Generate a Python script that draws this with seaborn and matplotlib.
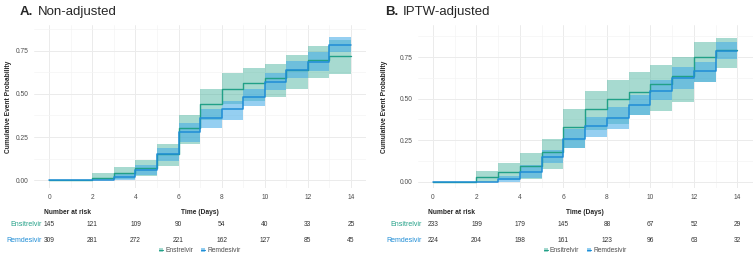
import numpy as np
import matplotlib
matplotlib.use("Agg")
import matplotlib.pyplot as plt
from matplotlib.patches import Patch
from matplotlib.lines import Line2D
from matplotlib.transforms import blended_transform_factory
import seaborn as sns

# days for the step curves (value holds from day d to d+1)
days = list(range(15))

# panel A: non-adjusted
a_ens = [0, 0, 0.015, 0.045, 0.07, 0.15, 0.30, 0.44, 0.53, 0.565, 0.59, 0.64, 0.695, 0.72, 0.72]
a_ens_lo = [0, 0, 0, 0.01, 0.025, 0.085, 0.21, 0.35, 0.44, 0.46, 0.48, 0.53, 0.59, 0.615, 0.615]
a_ens_hi = [0, 0, 0.04, 0.08, 0.115, 0.21, 0.38, 0.53, 0.62, 0.65, 0.675, 0.725, 0.775, 0.81, 0.81]
a_rem = [0, 0, 0, 0.02, 0.06, 0.15, 0.28, 0.36, 0.41, 0.48, 0.57, 0.64, 0.685, 0.785, 0.785]
a_rem_lo = [0, 0, 0, 0.0, 0.03, 0.11, 0.22, 0.30, 0.35, 0.43, 0.52, 0.59, 0.63, 0.74, 0.74]
a_rem_hi = [0, 0, 0, 0.04, 0.09, 0.19, 0.33, 0.41, 0.46, 0.53, 0.62, 0.69, 0.74, 0.83, 0.83]

# panel B: IPTW-adjusted
b_ens = [0, 0, 0.026, 0.057, 0.093, 0.177, 0.328, 0.436, 0.50, 0.542, 0.587, 0.637, 0.753, 0.793, 0.793]
b_ens_lo = [0, 0, 0, 0.01, 0.016, 0.078, 0.20, 0.31, 0.35, 0.40, 0.426, 0.482, 0.60, 0.683, 0.683]
b_ens_hi = [0, 0, 0.064, 0.11, 0.17, 0.26, 0.438, 0.546, 0.61, 0.659, 0.703, 0.753, 0.84, 0.864, 0.864]
b_rem = [0, 0, 0, 0.014, 0.057, 0.15, 0.26, 0.333, 0.386, 0.464, 0.548, 0.625, 0.669, 0.79, 0.79]
b_rem_lo = [0, 0, 0, 0, 0.02, 0.11, 0.20, 0.27, 0.32, 0.40, 0.49, 0.56, 0.60, 0.74, 0.74]
b_rem_hi = [0, 0, 0, 0.035, 0.10, 0.19, 0.32, 0.39, 0.45, 0.52, 0.61, 0.69, 0.72, 0.84, 0.84]

# number at risk table
risk_days = [0, 2, 4, 6, 8, 10, 12, 14]
a_risk_ens = [145, 121, 109, 90, 54, 40, 33, 25]
a_risk_rem = [309, 281, 272, 221, 162, 127, 85, 45]
b_risk_ens = [233, 199, 179, 145, 88, 67, 52, 29]
b_risk_rem = [224, 204, 198, 161, 123, 96, 63, 32]

GREEN = '#21a087'
BLUE = '#1f8dd6'
GREEN_FILL = '#3cae97'
BLUE_FILL = '#3fa9e6'

sns.set_style("white")
plt.rcParams['font.family'] = ['Liberation Sans', 'DejaVu Sans']

W, H = 753, 261
fig = plt.figure(figsize=(W / 100, H / 100), dpi=100)

def px(x0, y0, x1, y1):
    return [x0 / W, 1 - y1 / H, (x1 - x0) / W, (y1 - y0) / H]

def draw_panel(rect, ylim, ens, ens_lo, ens_hi, rem, rem_lo, rem_hi,
               risk_ens, risk_rem, title_letter, title_text, legend_name,
               title_x, title2_x, ylab_x, label_right, nar_x, legend_x):
    ax = fig.add_axes(rect)
    # grid like theme_minimal
    ax.set_xlim(-0.7, 14.7)
    ax.set_ylim(*ylim)
    ax.set_xticks(range(0, 15, 2))
    ax.set_xticks(range(1, 15, 2), minor=True)
    ax.set_yticks([0, 0.25, 0.5, 0.75])
    ax.set_yticks([0.125, 0.375, 0.625, 0.875], minor=True)
    ax.grid(True, which='major', color='#ebebeb', lw=0.7)
    ax.grid(True, which='minor', color='#f4f4f4', lw=0.5)
    for s in ax.spines.values():
        s.set_visible(False)
    ax.set_yticklabels(['0.00', '0.25', '0.50', '0.75'])
    ax.tick_params(axis='both', which='major', labelsize=4.8, colors='#4d4d4d',
                   length=1.5, width=0.5, pad=2.5)
    ax.tick_params(axis='x', which='major', length=0, pad=4)
    ax.tick_params(which='minor', length=0)

    ax.fill_between(days, ens_lo, ens_hi, step='post', color=GREEN_FILL, alpha=0.45, lw=0)
    ax.fill_between(days, rem_lo, rem_hi, step='post', color=BLUE_FILL, alpha=0.55, lw=0)
    sns.lineplot(x=days, y=ens, ax=ax, drawstyle='steps-post', color=GREEN, lw=1.0)
    sns.lineplot(x=days, y=rem, ax=ax, drawstyle='steps-post', color=BLUE, lw=1.1)
    ax.set_xlabel('')
    ax.set_ylabel('Cumulative Event Probability', fontsize=4.8, fontweight='bold')
    ax.yaxis.set_label_coords((ylab_x - rect[0] * W) / (rect[2] * W), 0.5)

    fig.text(title_x / W, 1 - 12 / H, title_letter, fontsize=9.5, fontweight='bold',
             va='center', ha='left')
    fig.text(title2_x / W, 1 - 12 / H, title_text, fontsize=9.5, va='center', ha='left')

    tr = blended_transform_factory(ax.transData, fig.transFigure)
    fig.text(nar_x / W, 1 - 212 / H, 'Number at risk', fontsize=4.8, fontweight='bold',
             va='center', ha='left')
    ax.text(7, 1 - 212 / H, 'Time (Days)', transform=tr, fontsize=4.8, fontweight='bold',
            va='center', ha='center')
    fig.text(label_right / W, 1 - 225 / H, 'Ensitrelvir', fontsize=5, color=GREEN,
             va='center', ha='right')
    fig.text(label_right / W, 1 - 240 / H, 'Remdesivir', fontsize=5, color=BLUE,
             va='center', ha='right')
    for d, n1, n2 in zip(risk_days, risk_ens, risk_rem):
        ax.text(d, 1 - 225 / H, str(n1), transform=tr, fontsize=4.8, color='#333333',
                va='center', ha='center')
        ax.text(d, 1 - 240 / H, str(n2), transform=tr, fontsize=4.8, color='#333333',
                va='center', ha='center')

    handles = [(Patch(facecolor=GREEN_FILL, alpha=0.45, lw=0), Line2D([], [], color=GREEN, lw=0.8)),
               (Patch(facecolor=BLUE_FILL, alpha=0.55, lw=0), Line2D([], [], color=BLUE, lw=0.8))]
    fig.legend(handles=handles, labels=[legend_name, 'Remdesivir'], loc='center',
               bbox_to_anchor=(legend_x / W, 1 - 251 / H), ncol=2, frameon=False,
               fontsize=4.8, handlelength=0.6, handleheight=0.6, handletextpad=0.3,
               columnspacing=1.2, labelcolor='#4d4d4d')
    return ax

draw_panel(px(34.2, 25, 366.1, 188), (-0.044, 0.898), a_ens, a_ens_lo, a_ens_hi,
           a_rem, a_rem_lo, a_rem_hi, a_risk_ens, a_risk_rem,
           'A.', 'Non-adjusted', 'Enstrelvir', 20, 37.5, 12.5, 42, 44, 200)
draw_panel(px(417.8, 25, 752.6, 188.3), (-0.04, 0.944), b_ens, b_ens_lo, b_ens_hi,
           b_rem, b_rem_lo, b_rem_hi, b_risk_ens, b_risk_rem,
           'B.', 'IPTW-adjusted', 'Ensitrelvir', 385, 403, 388, 422, 428, 585)

fig.savefig('out.png', dpi=100)
